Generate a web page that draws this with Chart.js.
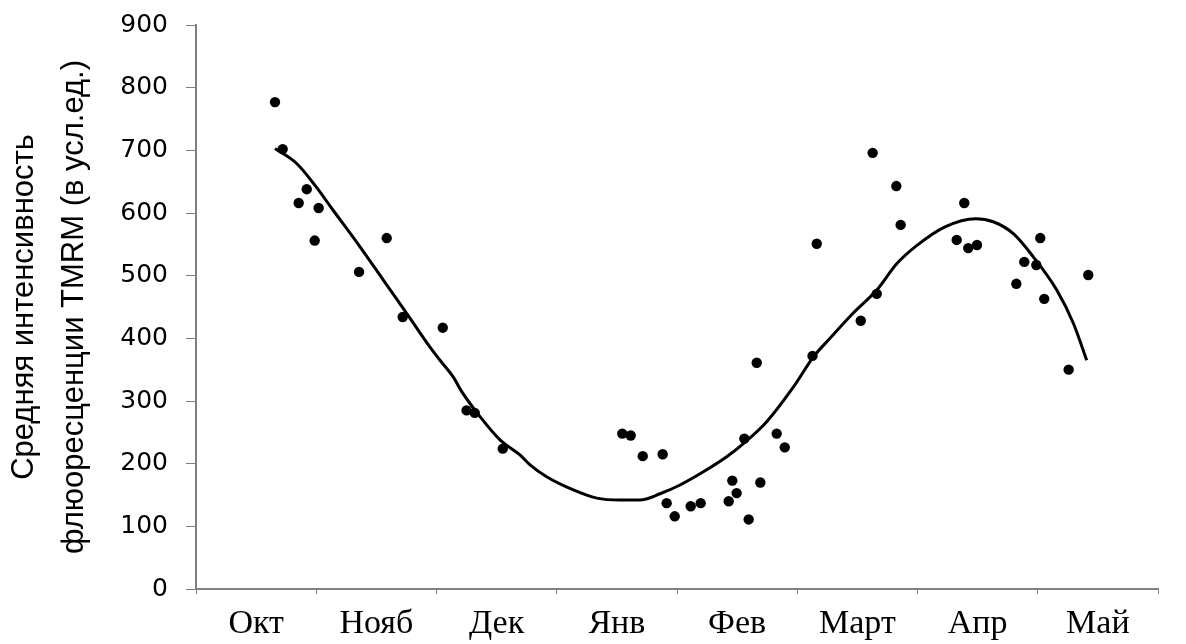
<!DOCTYPE html>
<html>
<head>
<meta charset="utf-8">
<script src="https://cdn.jsdelivr.net/npm/chart.js@4/dist/chart.umd.min.js"></script>
<style>
  html, body { margin: 0; padding: 0; background: #ffffff; }
  #wrap { width: 1186px; height: 644px; position: relative; }
</style>
</head>
<body>
<div id="wrap"><canvas id="chart" width="1186" height="644"></canvas></div>
<script>
// Month labels along the bottom axis
const months = ['Окт', 'Нояб', 'Дек', 'Янв', 'Фев', 'Март', 'Апр', 'Май'];

// Y axis tick values
const yTicks = [0, 100, 200, 300, 400, 500, 600, 700, 800, 900];

// Individual measurements: position in months from the start of October, and intensity
const sampleMonth = [
  0.657, 0.721, 0.854, 0.921, 0.987, 1.020, 1.356, 1.586, 1.719, 2.052,
  2.250, 2.318, 2.551, 3.545, 3.615, 3.715, 3.881, 3.914, 3.981, 4.114,
  4.197, 4.430, 4.460, 4.496, 4.560, 4.596, 4.663, 4.693, 4.829, 4.896,
  5.127, 5.162, 5.528, 5.627, 5.661, 5.824, 5.860, 6.326, 6.389, 6.422,
  6.495, 6.822, 6.888, 6.988, 7.021, 7.054, 7.257, 7.420
];
const sampleValue = [
  777, 702, 616, 638, 556, 608, 506, 560, 434, 417,
  285, 281, 224, 248, 245, 212, 215, 137, 116, 132,
  137, 140, 173, 153, 240, 111, 361, 170, 248, 226,
  372, 551, 428, 696, 471, 643, 581, 557, 616, 544,
  549, 487, 522, 517, 560, 463, 350, 501
];

// Seasonal trend curve
const trendMonth = [
  0.657, 0.837, 0.990, 1.142, 1.364, 1.558, 1.752, 1.946, 2.029, 2.140,
  2.210, 2.362, 2.528, 2.694, 2.778, 2.916, 3.138, 3.332, 3.526, 3.692,
  3.859, 4.025, 4.219, 4.413, 4.552, 4.746, 4.967, 5.133, 5.272, 5.464,
  5.661, 5.827, 5.993, 6.229, 6.484, 6.630, 6.797, 6.963, 7.158, 7.296,
  7.407
];
const trendValue = [
  703, 679, 644, 604, 546, 493, 440, 386, 365, 338,
  315, 275, 238, 214, 198, 179, 158, 145, 142, 142,
  152, 166, 187, 211, 232, 267, 322, 370, 400, 440,
  477, 519, 548, 578, 591, 586, 567, 530, 477, 424,
  365
];

const points = sampleMonth.map((m, i) => ({ x: m, y: sampleValue[i] }));
const trend = trendMonth.map((m, i) => ({ x: m, y: trendValue[i] }));

const axisGray = '#808080';

new Chart(document.getElementById('chart'), {
  type: 'scatter',
  data: {
    labels: months,
    datasets: [
      {
        type: 'line',
        label: 'Тренд',
        data: trend,
        xAxisID: 'xm',
        yAxisID: 'y',
        borderColor: '#000000',
        borderWidth: 3,
        pointRadius: 0,
        fill: false,
        cubicInterpolationMode: 'monotone',
        order: 2
      },
      {
        type: 'scatter',
        label: 'Измерения',
        data: points,
        xAxisID: 'xm',
        yAxisID: 'y',
        backgroundColor: '#000000',
        borderColor: '#000000',
        borderWidth: 0,
        pointRadius: 5.2,
        pointHoverRadius: 5.2,
        order: 1
      }
    ]
  },
  options: {
    responsive: false,
    animation: false,
    events: [],
    layout: { padding: { left: 0, right: 28, top: 25, bottom: 0 } },
    plugins: {
      legend: { display: false },
      tooltip: { enabled: false },
      title: { display: false }
    },
    scales: {
      x: {
        type: 'category',
        position: 'bottom',
        offset: true,
        afterFit: (scale) => { scale.height = 55; },
        border: { display: true, color: axisGray, width: 2 },
        grid: {
          offset: true,
          drawOnChartArea: false,
          drawTicks: true,
          tickLength: 5,
          color: axisGray,
          lineWidth: 1
        },
        ticks: {
          color: '#000000',
          padding: 10,
          maxRotation: 0,
          autoSkip: false,
          font: { family: '"Liberation Serif", "Times New Roman", serif', size: 34, lineHeight: 1.2 }
        }
      },
      xm: {
        type: 'linear',
        display: false,
        min: 0,
        max: 8
      },
      y: {
        type: 'linear',
        position: 'left',
        min: 0,
        max: 900,
        afterFit: (scale) => {
          scale.width = 196;
          scale.paddingTop = 0;
          scale.paddingBottom = 0;
        },
        afterBuildTicks: (scale) => { scale.ticks = yTicks.map(v => ({ value: v })); },
        border: { display: true, color: axisGray, width: 2 },
        grid: {
          drawOnChartArea: false,
          drawTicks: true,
          tickLength: 10,
          color: axisGray,
          lineWidth: 1
        },
        ticks: {
          color: '#000000',
          padding: 18,
          font: { family: '"DejaVu Sans", sans-serif', size: 25 }
        },
        title: {
          display: true,
          text: ['Средняя интенсивность', 'флюоресценции TMRM (в усл.ед.)'],
          color: '#000000',
          padding: { top: 0, bottom: 0 },
          font: { family: '"Liberation Sans", Arial, sans-serif', size: 31, lineHeight: 1.6 }
        }
      }
    }
  }
});
</script>
</body>
</html>
